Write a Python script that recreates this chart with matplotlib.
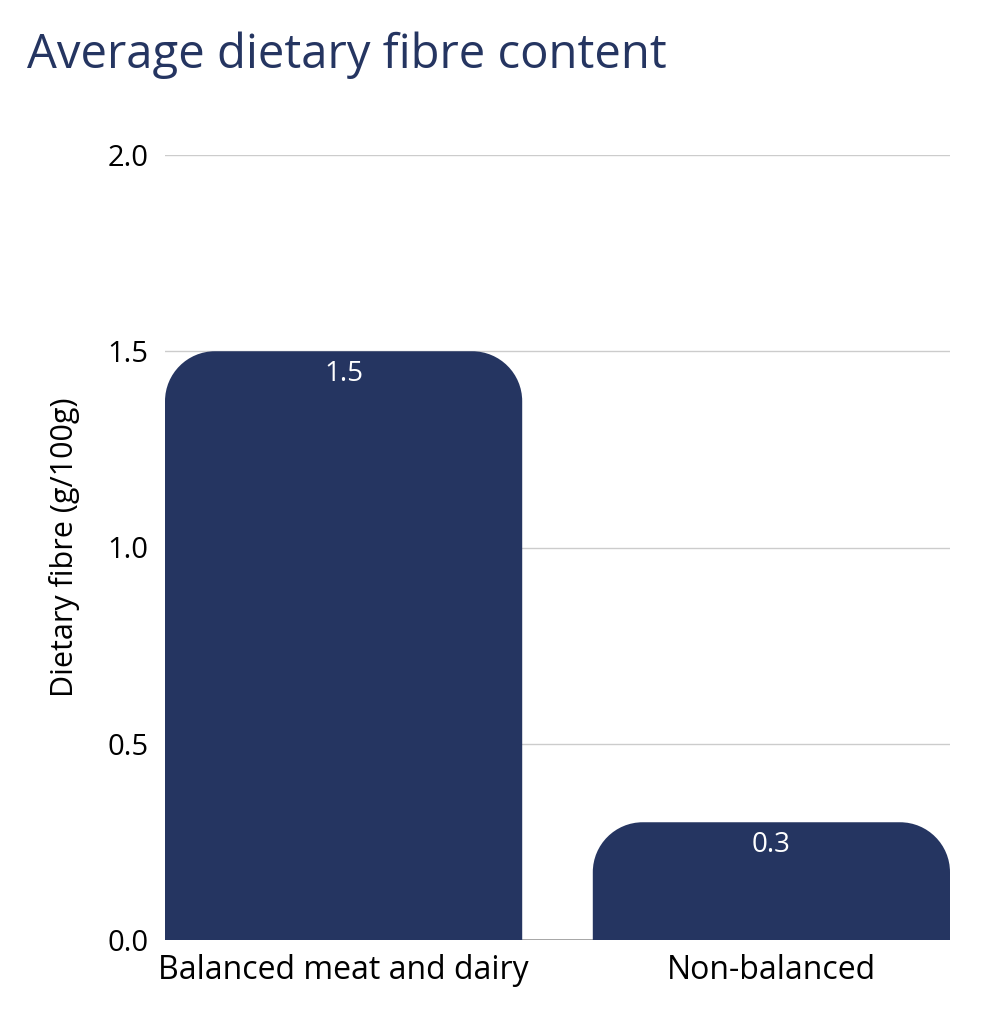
import matplotlib
matplotlib.use("Agg")
import matplotlib.pyplot as plt
from matplotlib.path import Path
from matplotlib.patches import PathPatch

categories = ["Balanced meat and dairy", "Non-balanced"]
values = [1.5, 0.3]
value_labels = ["1.5", "0.3"]
yticks = [0.0, 0.5, 1.0, 1.5, 2.0]
ytick_labels = ["0.0", "0.5", "1.0", "1.5", "2.0"]

FONT = ["Open Sans", "DejaVu Sans"]
plt.rcParams["font.family"] = FONT
NAVY = "#253561"

W, H = 996, 1024
fig = plt.figure(figsize=(W / 100, H / 100), dpi=100)
ax = fig.add_axes([165 / W, (H - 940) / H, (950 - 165) / W, (940 - 155) / H])

width = 0.835
ax.set_xlim(-width / 2, len(categories) - 1 + width / 2)
ax.set_ylim(0, 2.0)

bars = ax.bar(range(len(categories)), values, width=width, color=NAVY, zorder=2)

# convert a pixel radius to data units
fig.canvas.draw()
p0 = ax.transData.transform((0, 0))
p1 = ax.transData.transform((1, 1))
px_x = p1[0] - p0[0]
px_y = p1[1] - p0[1]
r_px = 50
rx = r_px / px_x
ry = r_px / px_y
k = 0.5523

for b in bars:
    x0 = b.get_x()
    x1 = x0 + b.get_width()
    h = b.get_height()
    b.set_visible(False)
    verts = [
        (x0, 0), (x0, h - ry),
        (x0, h - ry + k * ry), (x0 + rx - k * rx, h), (x0 + rx, h),
        (x1 - rx, h),
        (x1 - rx + k * rx, h), (x1, h - ry + k * ry), (x1, h - ry),
        (x1, 0), (x0, 0),
    ]
    codes = [Path.MOVETO, Path.LINETO,
             Path.CURVE4, Path.CURVE4, Path.CURVE4,
             Path.LINETO,
             Path.CURVE4, Path.CURVE4, Path.CURVE4,
             Path.LINETO, Path.CLOSEPOLY]
    ax.add_patch(PathPatch(Path(verts, codes), facecolor=NAVY, edgecolor="none", zorder=2))

for i, (v, lab) in enumerate(zip(values, value_labels)):
    ax.annotate(lab, (i, v), xytext=(0, -23), textcoords="offset pixels",
                ha="center", va="center", color="white", fontsize=20, zorder=3)

ax.set_yticks(yticks)
ax.set_yticklabels(ytick_labels)
ax.set_xticks(range(len(categories)))
ax.set_xticklabels(categories)
ax.tick_params(axis="y", length=0, labelsize=21, colors="black", pad=12)
ax.tick_params(axis="x", length=0, labelsize=23, colors="black", pad=10)
ax.yaxis.grid(True, color="#cccccc", linewidth=1, zorder=0)
ax.set_axisbelow(True)
for s in ax.spines.values():
    s.set_visible(False)
ax.axhline(0, color="#999999", linewidth=1.2, zorder=1)

ax.set_ylabel("Dietary fibre (g/100g)", fontsize=22, va="center")
ax.yaxis.set_label_coords(-(165 - 65) / 785, 0.5)

fig.text(27 / W, 1 - 55 / H, "Average dietary fibre content", fontsize=34,
         color=NAVY, ha="left", va="center")

fig.savefig("out.png", dpi=100)
